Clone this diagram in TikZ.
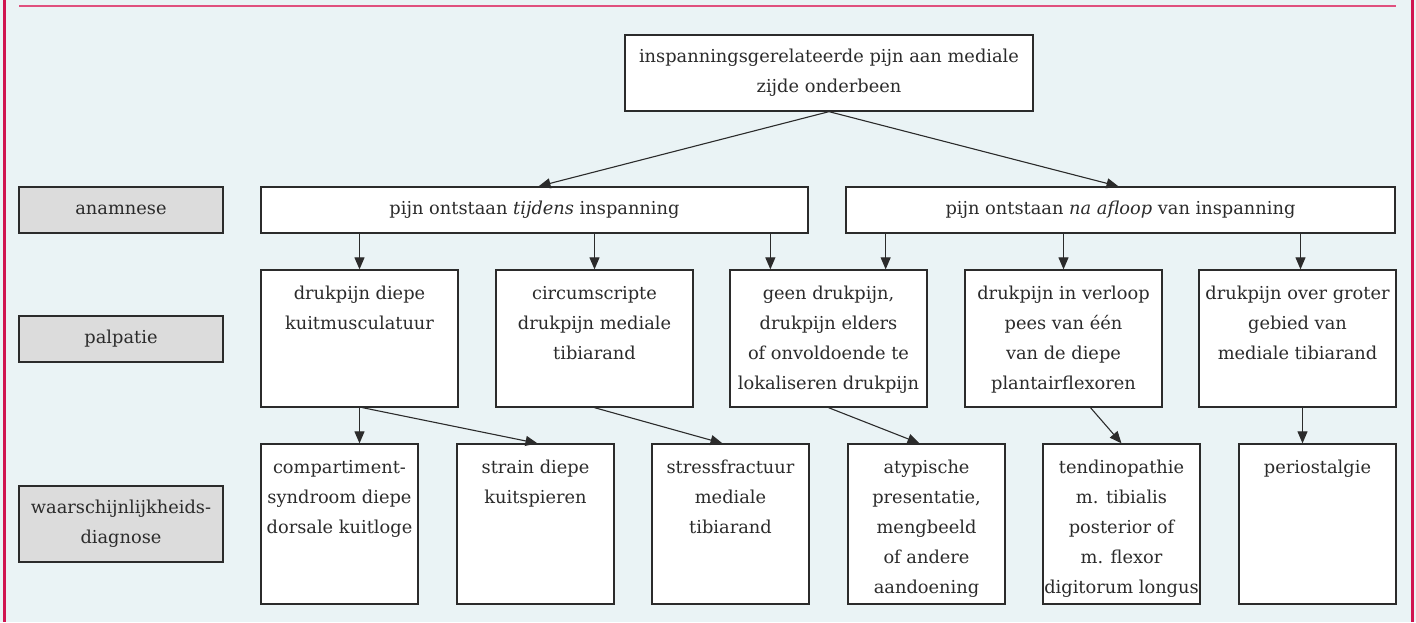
\documentclass[tikz,border=0pt]{standalone}
\usepackage{fontspec}
\setmainfont{DejaVu Serif}
\usetikzlibrary{arrows.meta}
\definecolor{bgc}{HTML}{EAF3F5}
\definecolor{redline}{HTML}{D01450}
\definecolor{pinkline}{HTML}{E0507E}
\definecolor{greyfill}{HTML}{DCDCDC}
\definecolor{ink}{HTML}{2B2B2B}
\newcommand{\tbx}[3]{\parbox[c][#2][t]{#1}{\centering\rule{0pt}{29pt}#3}}
\begin{document}
\begin{tikzpicture}[x=1pt,y=-1pt,
  font=\fontsize{17.8}{30}\selectfont, text=ink,
  box/.style={draw=ink, line width=1.3pt, fill=white, inner sep=0pt, align=center},
  lab/.style={draw=ink, line width=1.3pt, fill=greyfill, inner sep=0pt, align=center, minimum width=204pt},
  arr/.style={draw=ink, line width=1.1pt, -{Triangle[length=12pt,width=10pt]}}]
\useasboundingbox (0,0) rectangle (1416,622);
\fill[bgc] (0,0) rectangle (1416,622);
\draw[redline, line width=3pt] (4,0) -- (4,622);
\draw[redline, line width=3pt] (1412,0) -- (1412,622);
\draw[pinkline, line width=2pt] (19,6) -- (1396,6);

% top
\node[box, minimum width=408pt, minimum height=76pt] (top) at (829,73) {inspanningsgerelateerde pijn aan mediale\\ zijde onderbeen};
% row 1
\node[box, minimum width=547pt, minimum height=46pt] (r1) at (534.5,210) {pijn ontstaan \textit{tijdens} inspanning};
\node[box, minimum width=549pt, minimum height=46pt] (r2) at (1120.5,210) {pijn ontstaan \textit{na afloop} van inspanning};
% labels
\node[lab, minimum height=46pt] (la) at (121,210) {anamnese};
\node[lab, minimum height=46pt] (lp) at (121,339) {palpatie};
\node[lab, minimum height=76pt] (ld) at (121,524) {waarschijnlijkheids-\\diagnose};
% palpatie
\node[box] (p1) at (359.5,338.5) {\tbx{197pt}{137pt}{drukpijn diepe\\kuitmusculatuur}};
\node[box] (p2) at (594.5,338.5) {\tbx{197pt}{137pt}{circumscripte\\drukpijn mediale\\tibiarand}};
\node[box] (p3) at (828.5,338.5) {\tbx{197pt}{137pt}{geen drukpijn,\\drukpijn elders\\of onvoldoende te\\lokaliseren drukpijn}};
\node[box] (p4) at (1063.5,338.5) {\tbx{197pt}{137pt}{drukpijn in verloop\\pees van één\\van de diepe\\plantairflexoren}};
\node[box] (p5) at (1297.5,338.5) {\tbx{197pt}{137pt}{drukpijn over groter\\gebied van\\mediale tibiarand}};
% diagnoses
\node[box] (d1) at (339.5,524) {\tbx{157pt}{160pt}{compartiment-\\syndroom diepe\\dorsale kuitloge}};
\node[box] (d2) at (535.5,524) {\tbx{157pt}{160pt}{strain diepe\\kuitspieren}};
\node[box] (d3) at (730.5,524) {\tbx{157pt}{160pt}{stressfractuur\\mediale\\tibiarand}};
\node[box] (d4) at (926.5,524) {\tbx{157pt}{160pt}{atypische\\presentatie,\\mengbeeld\\of andere\\aandoening}};
\node[box] (d5) at (1121.5,524) {\tbx{157pt}{160pt}{tendinopathie\\m. tibialis\\posterior of\\m. flexor\\digitorum longus}};
\node[box] (d6) at (1317.5,524) {\tbx{157pt}{160pt}{periostalgie}};

% connectors
\draw[arr] (top.south) -- ([xshift=4pt]r1.north);
\draw[arr] (top.south) -- ([xshift=-2pt]r2.north);

\coordinate (a3) at ([xshift=41pt]p3.north west);
\coordinate (b3) at ([xshift=-42pt]p3.north east);
\coordinate (b5) at ([xshift=3pt]p5.north);
\draw[arr] (p1.north |- r1.south) -- (p1.north);
\draw[arr] (p2.north |- r1.south) -- (p2.north);
\draw[arr] (a3 |- r1.south) -- (a3);
\draw[arr] (b3 |- r2.south) -- (b3);
\draw[arr] (p4.north |- r2.south) -- (p4.north);
\draw[arr] (b5 |- r2.south) -- (b5);

\coordinate (s6) at ([xshift=5pt]p5.south);
\draw[arr] (p1.south) -- (p1.south |- d1.north);
\draw[arr] ([xshift=3pt]p1.south) -- ([xshift=2pt]d2.north);
\draw[arr] (p2.south) -- ([xshift=-8pt]d3.north);
\draw[arr] (p3.south) -- ([xshift=-7pt]d4.north);
\draw[arr] ([xshift=27pt]p4.south) -- (d5.north);
\draw[arr] (s6) -- (s6 |- d6.north);
\end{tikzpicture}
\end{document}
